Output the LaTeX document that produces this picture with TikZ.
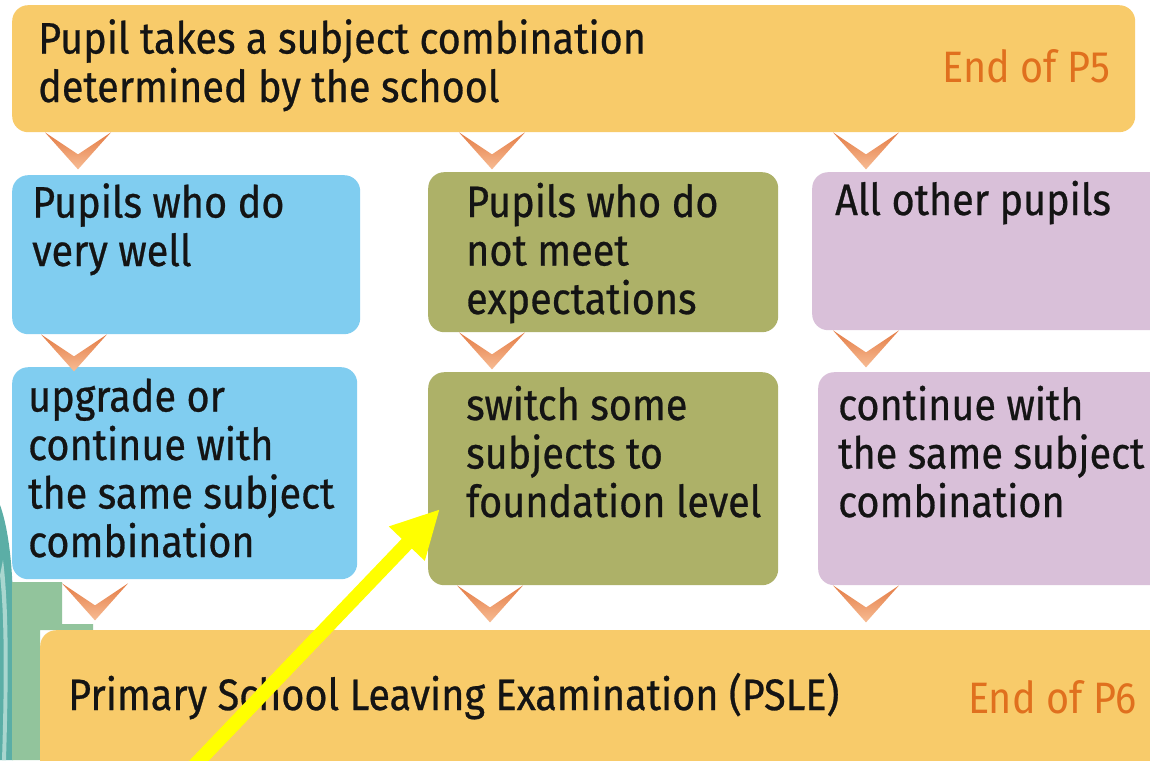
\documentclass[tikz,border=0pt]{standalone}
\usepackage{fontspec}
\setmainfont{Fira Sans}[FakeStretch=0.9]
\newfontfamily\blackfont{Fira Sans}[FakeStretch=0.9,FakeBold=0.6]
\usetikzlibrary{arrows.meta,calc}
\definecolor{cyel}{HTML}{F8CB6A}
\definecolor{cblue}{HTML}{80CDF0}
\definecolor{colive}{HTML}{ADB168}
\definecolor{clav}{HTML}{D9C0D9}
\definecolor{corange}{HTML}{E0701E}
\definecolor{cchev}{HTML}{E47C45}
\definecolor{cchevl}{HTML}{F7BC94}
\definecolor{cgreen}{HTML}{92C49C}
\definecolor{cteal}{HTML}{5BAEA6}
\definecolor{ctealL}{HTML}{A9D6CF}
\definecolor{ctext}{HTML}{141414}
\definecolor{cyellow}{HTML}{FFFF00}
\begin{document}
\begin{tikzpicture}[x=1pt,y=-1pt,
  box/.style={rectangle, rounded corners=16pt, draw=none, inner sep=0pt, anchor=north west},
  txt/.style={font=\blackfont\fontsize{44}{48.5}\selectfont, text=ctext, align=left, inner sep=0pt, anchor=base west},
  stage/.style={font=\fontsize{44}{48}\selectfont, text=corange, inner sep=0pt, anchor=base east},
  chev/.pic={\shade[top color=cchev, bottom color=cchevl] (-33,0) -- (0,37) -- (33,0) -- (0,22) -- cycle;},
  yarrow/.style={draw=cyellow, line width=14pt, -{Triangle[length=48pt,width=46pt]}}
]
\clip (0,0) rectangle (1150,760);
\fill[white] (0,0) rectangle (1150,760);
% background art at the left edge
\fill[cteal] (0,505) .. controls (9,530) and (13,570) .. (13,610) -- (13,760) -- (0,760) -- cycle;
\fill[ctealL] (3,560) .. controls (8,600) and (9,660) .. (6,760) -- (2,760) .. controls (5,670) and (4,610) .. (0,575) -- cycle;
\fill[cgreen] (12,582) -- (62,582) -- (62,624) -- (93,624) -- (93,630) -- (40,630) -- (40,760) -- (12,760) -- cycle;

% boxes
\node[box, fill=cyel, minimum width=1123pt, minimum height=127pt] (top) at (12,5) {};
\node[box, fill=cblue, minimum width=348pt, minimum height=159pt] (b2) at (12,175) {};
\node[box, fill=colive, minimum width=350pt, minimum height=160pt] (g2) at (428,172) {};
\node[box, fill=clav, minimum width=360pt, minimum height=158pt] (p2) at (812,172) {};
\node[box, fill=cblue, minimum width=345pt, minimum height=212pt] (b3) at (12,367) {};
\node[box, fill=colive, minimum width=350pt, minimum height=213pt] (g3) at (428,372) {};
\node[box, fill=clav, minimum width=360pt, minimum height=213pt] (p3) at (818,372) {};
\node[box, fill=cyel, minimum width=1140pt, minimum height=160pt] (bot) at (40,630) {};

% texts (anchor = baseline of the last line)
\node[txt] (ttop) at (38,102) {Pupil takes a subject combination\\determined by the school};
\node[stage] (tp5) at (1110,82) {End of P5};
\node[txt] (tb2) at (32,266) {Pupils who do\\very well};
\node[txt] (tg2) at (466,314) {Pupils who do\\not meet\\expectations};
\node[txt] (tp2) at (835,215) {All other pupils};
\node[txt] (tb3) at (28,557) {upgrade or\\continue with\\the same subject\\combination};
\node[txt] (tg3) at (466,517) {switch some\\subjects to\\foundation level};
\node[txt] (tp3) at (838,517) {continue with\\the same subject\\combination};
\node[txt] (tbot) at (68,710) {Primary School Leaving Examination (PSLE)};
\node[stage] (tp6) at (1137,713) {End of P6};

% chevron connectors
\pic at ($(top.south west)+(66,0)$) {chev};
\pic at ($(top.south west)+(480,0)$) {chev};
\pic at ($(top.south west)+(854,0)$) {chev};
\pic at ($(b2.south west)+(62,0)$) {chev};
\pic at ($(g2.south west)+(64,0)$) {chev};
\pic at ($(p2.south west)+(54,0)$) {chev};
\pic at ($(b3.south west)+(83,4)$) {chev};
\pic at ($(g3.south west)+(62,0)$) {chev};
\pic at ($(p3.south west)+(48,0)$) {chev};

% yellow pointer
\coordinate (ytail) at (193,767);
\coordinate (ytip) at (440,509);
\draw[yarrow] (ytail) -- (ytip);
\end{tikzpicture}
\end{document}
